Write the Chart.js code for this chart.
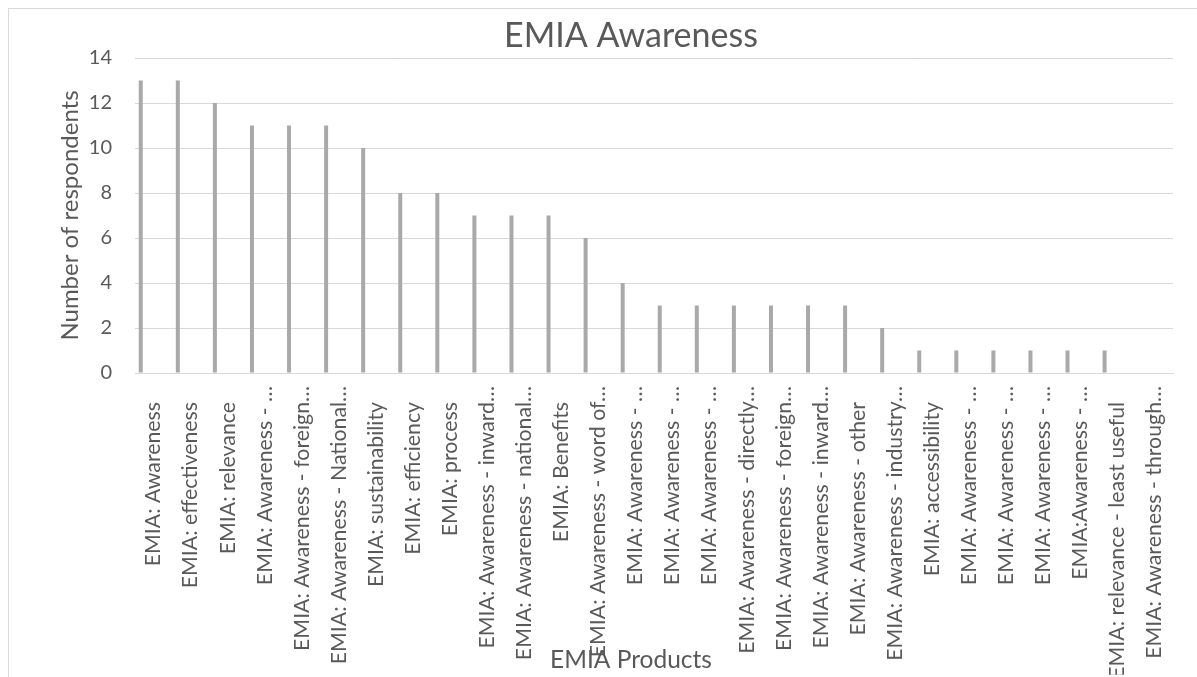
<!DOCTYPE html>
<html>
<head>
<meta charset="utf-8">
<title>EMIA Awareness</title>
<script src="https://cdn.jsdelivr.net/npm/chart.js@4.4.1/dist/chart.umd.min.js"></script>
<style>
  html, body { margin: 0; padding: 0; overflow: hidden; background: #ffffff; }
  #wrap { position: relative; width: 1262px; height: 720px; }
</style>
</head>
<body>
<div id="wrap"><canvas id="chart" width="1262" height="720"></canvas></div>
<script>
// Product categories along the x axis (long names are shown shortened)
const categories = [
  'EMIA: Awareness',
  'EMIA: effectiveness',
  'EMIA: relevance',
  'EMIA: Awareness - …',
  'EMIA: Awareness - foreign…',
  'EMIA: Awareness - National…',
  'EMIA: sustainability',
  'EMIA: efficiency',
  'EMIA: process',
  'EMIA: Awareness - inward…',
  'EMIA: Awareness - national…',
  'EMIA: Benefits',
  'EMIA: Awareness - word of…',
  'EMIA: Awareness - …',
  'EMIA: Awareness - …',
  'EMIA: Awareness - …',
  'EMIA: Awareness - directly…',
  'EMIA: Awareness - foreign…',
  'EMIA: Awareness - inward…',
  'EMIA: Awareness - other',
  'EMIA: Awareness - industry…',
  'EMIA: accessibility',
  'EMIA: Awareness - …',
  'EMIA: Awareness - …',
  'EMIA: Awareness - …',
  'EMIA:Awareness - …',
  'EMIA: relevance - least useful',
  'EMIA: Awareness - through…'
];

// Number of respondents per product
const respondents = [13, 13, 12, 11, 11, 11, 10, 8, 8, 7, 7, 7, 6, 4, 3, 3, 3, 3, 3, 3, 2, 1, 1, 1, 1, 1, 1, 0];

// Value axis range
const yMin = 0;
const yMax = 14;
const yStep = 2;

const FONT = 'Lato, "Open Sans", "Liberation Sans", sans-serif';
const TEXT = '#595959';
const GRID = '#d9d9d9';

// Outer frame of the chart object
const framePlugin = {
  id: 'frame',
  beforeDraw(chart) {
    const ctx = chart.ctx;
    ctx.save();
    ctx.fillStyle = '#ffffff';
    ctx.fillRect(0, 0, chart.width, chart.height);
    ctx.strokeStyle = GRID;
    ctx.lineWidth = 1;
    ctx.strokeRect(8.5, 8.5, 1245, 740);
    ctx.restore();
  }
};

new Chart(document.getElementById('chart'), {
  type: 'bar',
  data: {
    labels: categories,
    datasets: [
      {
        label: 'Respondents',
        data: respondents,
        backgroundColor: '#a9a9a9',
        borderWidth: 0,
        categoryPercentage: 0.92,
        barPercentage: 0.47
      },
      // empty companion series that share each category slot
      { label: '', data: [], categoryPercentage: 0.92, barPercentage: 0.47 },
      { label: '', data: [], categoryPercentage: 0.92, barPercentage: 0.47 },
      { label: '', data: [], categoryPercentage: 0.92, barPercentage: 0.47 }
    ]
  },
  options: {
    responsive: false,
    animation: false,
    devicePixelRatio: 1,
    layout: { padding: 0 },
    plugins: {
      legend: { display: false },
      tooltip: { enabled: false },
      title: {
        display: true,
        text: 'EMIA Awareness',
        color: TEXT,
        font: { family: FONT, size: 34, weight: 'normal' },
        padding: { top: 16, bottom: 1.2 }
      },
      subtitle: {
        display: true,
        position: 'bottom',
        text: 'EMIA Products',
        color: TEXT,
        font: { family: FONT, size: 24.5, weight: 'normal' },
        padding: { top: -29.4, bottom: 45.3 }
      }
    },
    scales: {
      x: {
        grid: { display: false, drawTicks: false },
        border: { display: true, color: GRID, width: 1 },
        ticks: {
          color: TEXT,
          font: { family: FONT, size: 21.3 },
          minRotation: 90,
          maxRotation: 90,
          autoSkip: false,
          padding: 13,
          // labels that are shown in full sit one em further from the axis
          callback(value, index) {
            const name = categories[index];
            return name.endsWith('…') ? name : name + '\u2003';
          }
        },
        afterFit(scale) { scale.height = 301.7; }
      },
      y: {
        min: yMin,
        max: yMax,
        ticks: {
          stepSize: yStep,
          color: TEXT,
          font: { family: FONT, size: 20 },
          padding: 23
        },
        grid: { color: GRID, lineWidth: 1, drawTicks: false },
        border: { display: false },
        title: {
          display: true,
          text: 'Number of respondents',
          color: TEXT,
          font: { family: FONT, size: 24, weight: 'normal' },
          padding: { top: 55.6, bottom: 0 }
        },
        afterFit(scale) { scale.width = 135; }
      },
      // right-hand spacer keeping the plot clear of the frame's right part
      spacer: {
        type: 'linear',
        position: 'right',
        display: true,
        grid: { display: false, drawTicks: false },
        border: { display: false },
        ticks: { display: false },
        afterFit(scale) { scale.width = 89; }
      }
    }
  },
  plugins: [framePlugin]
});
</script>
</body>
</html>
